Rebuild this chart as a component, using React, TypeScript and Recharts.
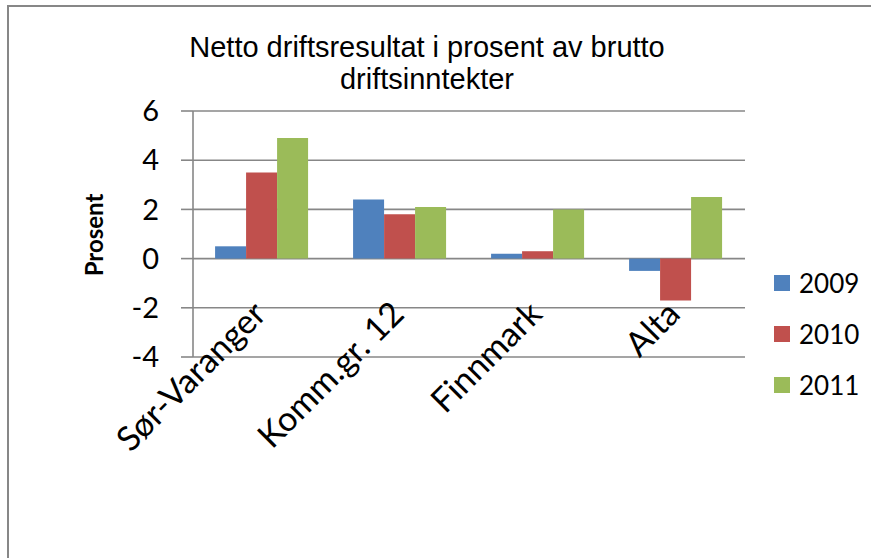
import { useLayoutEffect } from 'react'
import { BarChart, Bar, XAxis, YAxis, CartesianGrid } from 'recharts'

const categories = ['Sør-Varanger', 'Komm.gr. 12', 'Finnmark', 'Alta']
const years = ['2009', '2010', '2011']
const values2009 = [0.5, 2.4, 0.2, -0.5]
const values2010 = [3.5, 1.8, 0.3, -1.7]
const values2011 = [4.9, 2.1, 2.0, 2.5]
const yTicks = [-4, -2, 0, 2, 4, 6]

const colors = ['#4F81BD', '#C0504D', '#9BBB59']
const font = 'Lato, "Open Sans", sans-serif'

const data = categories.map((name, i) => ({
  name,
  '2009': values2009[i],
  '2010': values2010[i],
  '2011': values2011[i],
}))

// Excel puts the rotated labels partly over the plot area, so anchor them above the axis line
function CategoryTick({ x, y, payload }: any) {
  const ax = x + 6
  const ay = y - 49
  return (
    <text
      x={ax}
      y={ay}
      transform={`rotate(-45 ${ax} ${ay})`}
      textAnchor="end"
      fontSize={34}
      fontFamily={font}
      fill="#000"
    >
      {payload.value}
    </text>
  )
}

export default function App() {
  useLayoutEffect(() => {
    document.body.style.margin = '0'
    document.body.style.overflow = 'hidden'
  }, [])

  return (
    <div style={{ position: 'relative', width: 871, height: 558, overflow: 'hidden', background: '#fff' }}>
      <div
        style={{
          position: 'absolute',
          left: 252,
          width: 350,
          top: 31,
          textAlign: 'center',
          fontFamily: '"Liberation Sans", Arial, sans-serif',
          fontSize: 29,
          lineHeight: '32px',
          whiteSpace: 'nowrap',
          display: 'flex',
          flexDirection: 'column',
          alignItems: 'center',
        }}
      >
        <span>Netto driftsresultat i prosent av brutto</span>
        <span>driftsinntekter</span>
      </div>
      <div
        style={{
          position: 'absolute',
          left: 93,
          top: 235,
          transform: 'translate(-50%, -50%) rotate(-90deg)',
          fontFamily: font,
          fontWeight: 'bold',
          fontSize: 24,
          whiteSpace: 'nowrap',
        }}
      >
        Prosent
      </div>
      <div style={{ position: 'absolute', left: 0, top: 0 }}>
        <BarChart
          width={871}
          height={558}
          data={data}
          margin={{ top: 111, right: 126, left: 133, bottom: 81 }}
          barGap={0}
          barCategoryGap="16%"
        >
          <CartesianGrid vertical={false} stroke="#878787" strokeWidth={1.6} />
          <XAxis
            dataKey="name"
            axisLine={false}
            tickLine={false}
            tick={<CategoryTick />}
            interval={0}
            height={120}
          />
          <YAxis
            domain={[-4, 6]}
            ticks={yTicks}
            width={60}
            axisLine={{ stroke: '#878787', strokeWidth: 1.6 }}
            tickLine={{ stroke: '#878787', strokeWidth: 1.6 }}
            tickSize={12}
            tickMargin={22}
            tick={{ fontSize: 29, fontFamily: font, fill: '#000' }}
            interval={0}
          />
          {years.map((yr, i) => (
            <Bar key={yr} dataKey={yr} fill={colors[i]} isAnimationActive={false} />
          ))}
        </BarChart>
      </div>
      <div style={{ position: 'absolute', left: 774, top: 257, fontFamily: font, fontSize: 26 }}>
        {years.map((yr, i) => (
          <div key={yr} style={{ display: 'flex', alignItems: 'center', height: 51 }}>
            <span style={{ display: 'inline-block', width: 16, height: 16, background: colors[i], marginRight: 9 }} />
            {yr}
          </div>
        ))}
      </div>
      <div
        style={{
          position: 'absolute',
          left: 7,
          top: 5,
          width: 900,
          height: 600,
          boxSizing: 'border-box',
          borderLeft: '2px solid #878787',
          borderTop: '2px solid #878787',
          pointerEvents: 'none',
          zIndex: 5,
        }}
      />
    </div>
  )
}
